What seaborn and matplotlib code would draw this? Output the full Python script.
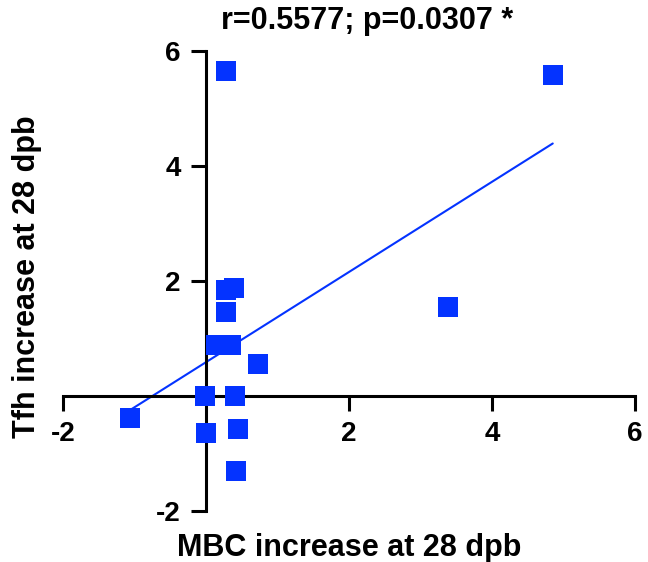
import matplotlib
matplotlib.use("Agg")
import matplotlib.pyplot as plt
import seaborn as sns
import pandas as pd

# values
mbc_increase = [0.28, 4.85, 3.38, 0.28, 0.39, 0.28, 0.14, 0.35, 0.73,
                -1.06, -0.01, 0.41, 0.00, 0.45, 0.42]
tfh_increase = [5.65, 5.58, 1.55, 1.84, 1.88, 1.46, 0.89, 0.89, 0.57,
                -0.37, 0.00, 0.00, -0.64, -0.56, -1.30]
tick_values = [-2, 2, 4, 6]
stats_title = "r=0.5577; p=0.0307 *"

BLUE = "#0433FF"

sns.set_theme(style="ticks")
plt.rcParams["font.family"] = ["Liberation Sans", "DejaVu Sans"]
plt.rcParams["text.color"] = "black"
plt.rcParams["axes.labelcolor"] = "black"
plt.rcParams["xtick.color"] = "black"
plt.rcParams["ytick.color"] = "black"

df = pd.DataFrame({"MBC": mbc_increase, "Tfh": tfh_increase})

fig = plt.figure(figsize=(6.48, 5.62), dpi=100)
ax = fig.add_axes([0.0972, 0.0899, 0.8827, 0.8193])

sns.regplot(
    data=df, x="MBC", y="Tfh", ax=ax, ci=None, color=BLUE, marker="s",
    scatter_kws=dict(s=207, linewidths=0, alpha=1, clip_on=False, zorder=3),
    line_kws=dict(lw=1.5, color=BLUE),
)

ax.set_xlim(-2, 6)
ax.set_ylim(-2, 6)

# axes cross at the origin
for side in ["top", "right"]:
    ax.spines[side].set_visible(False)
for side in ["left", "bottom"]:
    ax.spines[side].set_position(("data", 0))
    ax.spines[side].set_linewidth(2.2)
    ax.spines[side].set_color("black")

labels = [str(t) for t in tick_values]
ax.set_xticks(tick_values, labels=labels, fontsize=20, fontweight="bold")
ax.set_yticks(tick_values, labels=labels, fontsize=20, fontweight="bold")
ax.tick_params(direction="out", length=11, width=2.2, color="black", pad=7)

ax.set_xlabel("MBC increase at 28 dpb", fontsize=22, fontweight="bold")
ax.set_ylabel("Tfh increase at 28 dpb", fontsize=22, fontweight="bold")
ax.xaxis.set_label_coords(0.5, -0.047)
ax.yaxis.set_label_coords(-0.037, 0.51)

ax.set_title(stats_title, fontsize=22, fontweight="bold", x=0.531, pad=16)

fig.savefig("out.png", dpi=100)
